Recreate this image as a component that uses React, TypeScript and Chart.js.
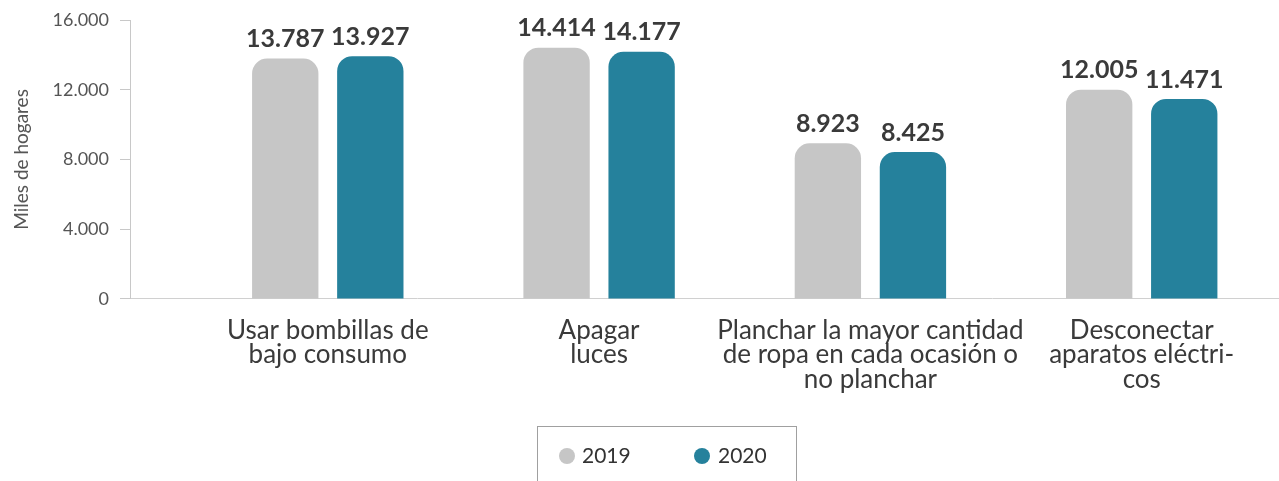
import React, { useEffect, useRef } from "react";
import { Chart, registerables } from "chart.js";

Chart.register(...registerables);

const categories: string[][] = [
  ["Usar bombillas de", "bajo consumo"],
  ["Apagar", "luces"],
  ["Planchar la mayor cantidad", "de ropa en cada ocasión o", "no planchar"],
  ["Desconectar", "aparatos eléctri-", "cos"],
];
const seriesNames = ["2019", "2020"];
const values2019 = [13787, 14414, 8923, 12005];
const values2020 = [13927, 14177, 8425, 11471];
const yTicks = [0, 4000, 8000, 12000, 16000];
const yTitle = "Miles de hogares";

const GRAY = "#c6c6c6";
const TEAL = "#25819c";
const TEXT = "#3a3a3a";
const FONT = "Lato, 'Open Sans', sans-serif";

const fmt = (v: number) => String(v).replace(/\B(?=(\d{3})+(?!\d))/g, ".");

const valueLabels = {
  id: "valueLabels",
  afterDatasetsDraw(chart: any) {
    const ctx = chart.ctx;
    ctx.save();
    ctx.font = `bold 25px ${FONT}`;
    ctx.fillStyle = TEXT;
    ctx.textAlign = "center";
    ctx.textBaseline = "bottom";
    chart.data.datasets.forEach((ds: any, i: number) => {
      const meta = chart.getDatasetMeta(i);
      meta.data.forEach((el: any, j: number) => {
        ctx.fillText(fmt(ds.data[j]), el.x, el.y - 7);
      });
    });
    ctx.restore();
  },
};

const boxLegend = {
  id: "boxLegend",
  afterDraw(chart: any) {
    const ctx = chart.ctx;
    ctx.save();
    ctx.strokeStyle = "#a0a0a0";
    ctx.lineWidth = 1;
    ctx.strokeRect(537.5, 426.5, 259, 70);
    const items = [
      { cx: 567, tx: 582 },
      { cx: 702, tx: 718 },
    ];
    chart.data.datasets.forEach((ds: any, i: number) => {
      const it = items[i];
      ctx.fillStyle = ds.backgroundColor;
      ctx.beginPath();
      ctx.arc(it.cx, 456, 8, 0, Math.PI * 2);
      ctx.fill();
      ctx.fillStyle = "#333333";
      ctx.font = `21px ${FONT}`;
      ctx.textAlign = "left";
      ctx.textBaseline = "middle";
      ctx.fillText(ds.label, it.tx, 456);
    });
    ctx.restore();
  },
};

export default function App() {
  const ref = useRef<HTMLCanvasElement | null>(null);
  useEffect(() => {
    document.body.style.margin = "0";
    if (!ref.current) return;
    const chart = new Chart(ref.current, {
      type: "bar",
      data: {
        labels: categories as any,
        datasets: [
          {
            label: seriesNames[0],
            data: values2019,
            backgroundColor: GRAY,
            borderRadius: 15,
            categoryPercentage: 0.627,
            barPercentage: 0.78,
          },
          {
            label: seriesNames[1],
            data: values2020,
            backgroundColor: TEAL,
            borderRadius: 15,
            categoryPercentage: 0.627,
            barPercentage: 0.78,
          },
        ],
      },
      options: {
        responsive: false,
        animation: false,
        layout: { padding: { top: 3, right: 0, bottom: 78, left: 0 } },
        plugins: {
          legend: { display: false },
          tooltip: { enabled: false },
        },
        scales: {
          x: {
            afterBuildTicks: (s: any) => {
              s._startValue = -0.729;
              s._valueRange = 4.235;
            },
            grid: { display: false },
            border: { display: true, color: "#d0d0d0", width: 1 },
            ticks: {
              color: TEXT,
              font: { family: FONT, size: 26, lineHeight: 0.95 },
              padding: 11,
              maxRotation: 0,
              autoSkip: false,
            },
          },
          y: {
            min: 0,
            max: 16000,
            afterFit: (s: any) => {
              s.width = 130;
            },
            afterBuildTicks: (s: any) => {
              s.ticks = yTicks.map((v) => ({ value: v }));
            },
            grid: {
              display: true,
              drawOnChartArea: false,
              drawTicks: true,
              tickLength: 10,
              color: "#c8c8c8",
            },
            border: { display: true, color: "#c8c8c8" },
            title: {
              display: true,
              text: yTitle,
              color: "#555555",
              font: { family: FONT, size: 19 },
              padding: { top: 10, bottom: 10 },
            },
            ticks: {
              color: "#555555",
              font: { family: FONT, size: 18, lineHeight: 1.0 },
              padding: 11,
              callback: (v: any) => fmt(Number(v)),
            },
          },
        },
      },
      plugins: [valueLabels, boxLegend],
    });
    return () => chart.destroy();
  }, []);
  return (
    <div style={{ width: 1279, height: 481 }}>
      <canvas ref={ref} width={1279} height={481} />
    </div>
  );
}
